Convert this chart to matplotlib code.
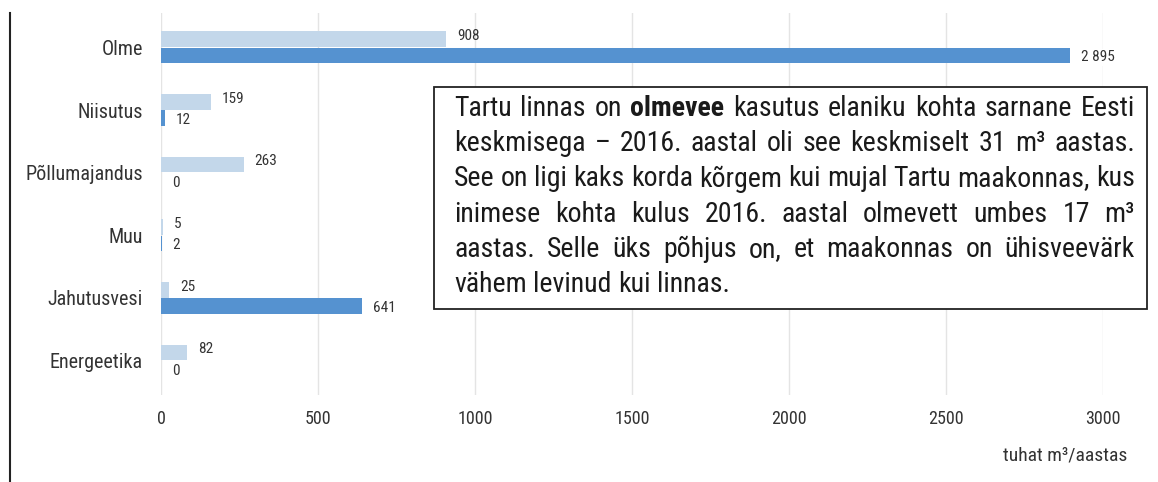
import matplotlib
matplotlib.use("Agg")
import matplotlib.pyplot as plt
from matplotlib import font_manager
from matplotlib.lines import Line2D
from matplotlib.patches import Rectangle

categories = ["Olme", "Niisutus", "Põllumajandus", "Muu", "Jahutusvesi", "Energeetika"]
values_light = [908, 159, 263, 5, 25, 82]
values_dark = [2895, 12, 0, 2, 641, 0]
labels_light = ["908", "159", "263", "5", "25", "82"]
labels_dark = ["2 895", "12", "0", "2", "641", "0"]
xticks = [0, 500, 1000, 1500, 2000, 2500, 3000]
x_unit = "tuhat m³/aastas"

note_lines = [
    "Tartu linnas on **olmevee** kasutus elaniku kohta sarnane Eesti",
    "keskmisega – 2016. aastal oli see keskmiselt 31 m³ aastas.",
    "See on ligi kaks korda kõrgem kui mujal Tartu maakonnas, kus",
    "inimese kohta kulus 2016. aastal olmevett umbes 17 m³",
    "aastas. Selle üks põhjus on, et maakonnas on ühisveevärk",
    "vähem levinud kui linnas.",
]


def pick_font(names):
    for name in names:
        try:
            font_manager.findfont(font_manager.FontProperties(family=name),
                                  fallback_to_default=False)
            return name
        except ValueError:
            continue
    return "DejaVu Sans"


FONT = pick_font(["Roboto Condensed", "Liberation Sans Narrow", "Roboto", "DejaVu Sans"])
plt.rcParams["font.family"] = [FONT, "DejaVu Sans"]

LIGHT = "#c3d7ea"
DARK = "#5592d0"
TXT = "#333333"

W, H = 1158, 482
fig = plt.figure(figsize=(W / 100, H / 100), dpi=100)
ax = fig.add_axes([161 / W, 1 - 395 / H, (1103 - 161) / W, (395 - 13) / H])

ys = list(range(len(categories)))
bh = 0.25
off = 0.13
ax.barh([y - off for y in ys], values_light, height=bh, color=LIGHT, zorder=2)
ax.barh([y + off for y in ys], values_dark, height=bh, color=DARK, zorder=2)

for y, v, lab in zip(ys, values_light, labels_light):
    ax.text(v + 35, y - off - 0.05, lab, fontsize=11, color=TXT, va="center",
            ha="left", zorder=4)
for y, v, lab in zip(ys, values_dark, labels_dark):
    ax.text(v + 35, y + off + 0.03, lab, fontsize=11, color=TXT, va="center",
            ha="left", zorder=4,
            bbox=dict(facecolor="white", edgecolor="none", pad=1))

ax.set_xlim(0, 3000)
ax.set_ylim(len(categories) - 0.45, -0.55)
ax.set_xticks(xticks)
ax.set_xticklabels([str(t) for t in xticks], fontsize=13, color=TXT)
ax.set_yticks(ys)
ax.set_yticklabels(categories, fontsize=14.5, color=TXT)
ax.tick_params(length=0, pad=11, axis="x")
ax.tick_params(length=0, pad=13, axis="y")
for s in ax.spines.values():
    s.set_visible(False)
ax.grid(axis="x", color="#e4e4e4", linewidth=1, zorder=0)
ax.set_axisbelow(True)

fig.text(1127 / W, 1 - 455 / H, x_unit, fontsize=14, color=TXT,
         ha="right", va="center")

# left border line
fig.add_artist(Line2D([10 / W, 10 / W], [0, 1 - 13 / H], color="#222222",
                      linewidth=1.5, transform=fig.transFigure))

# note box
fig.add_artist(Rectangle((434 / W, 1 - 309 / H), (1147 - 434) / W, (309 - 87) / H,
                         transform=fig.transFigure, facecolor="white",
                         edgecolor="#222222", linewidth=1.3, zorder=5))

fig.canvas.draw()
renderer = fig.canvas.get_renderer()
x0, x1 = 454, 1135
line_y = [108, 143.5, 179, 214, 249.5, 285]


def words_of(line):
    return [(w.strip("*"), w.startswith("**")) for w in line.split(" ")]


def measure(s, fs, bold=False):
    t = fig.text(0, 0, s, fontsize=fs, fontweight="bold" if bold else "normal")
    wd = t.get_window_extent(renderer).width
    t.remove()
    return wd


# fit font size so the widest line fills the box with normal spaces
base = 10
widest = 0
for line in note_lines[:-1]:
    ws = words_of(line)
    nat = sum(measure(w, base, b) for w, b in ws) + \
        (len(ws) - 1) * (measure("a a", base) - measure("aa", base))
    widest = max(widest, nat)
fs = base * (x1 - x0) / widest

space = measure("a a", fs) - measure("aa", fs)
for i, (line, yp) in enumerate(zip(note_lines, line_y)):
    ws = words_of(line)
    arts = [fig.text(0, 1 - yp / H, w, fontsize=fs, color="#1a1a1a",
                     fontweight="bold" if b else "normal",
                     ha="left", va="center", zorder=6) for w, b in ws]
    widths = [a.get_window_extent(renderer).width for a in arts]
    if i < len(note_lines) - 1:
        gap = (x1 - x0 - sum(widths)) / (len(arts) - 1)
    else:
        gap = space
    x = x0
    for a, wd in zip(arts, widths):
        a.set_x(x / W)
        x += wd + gap

fig.savefig("out.png", dpi=100)
